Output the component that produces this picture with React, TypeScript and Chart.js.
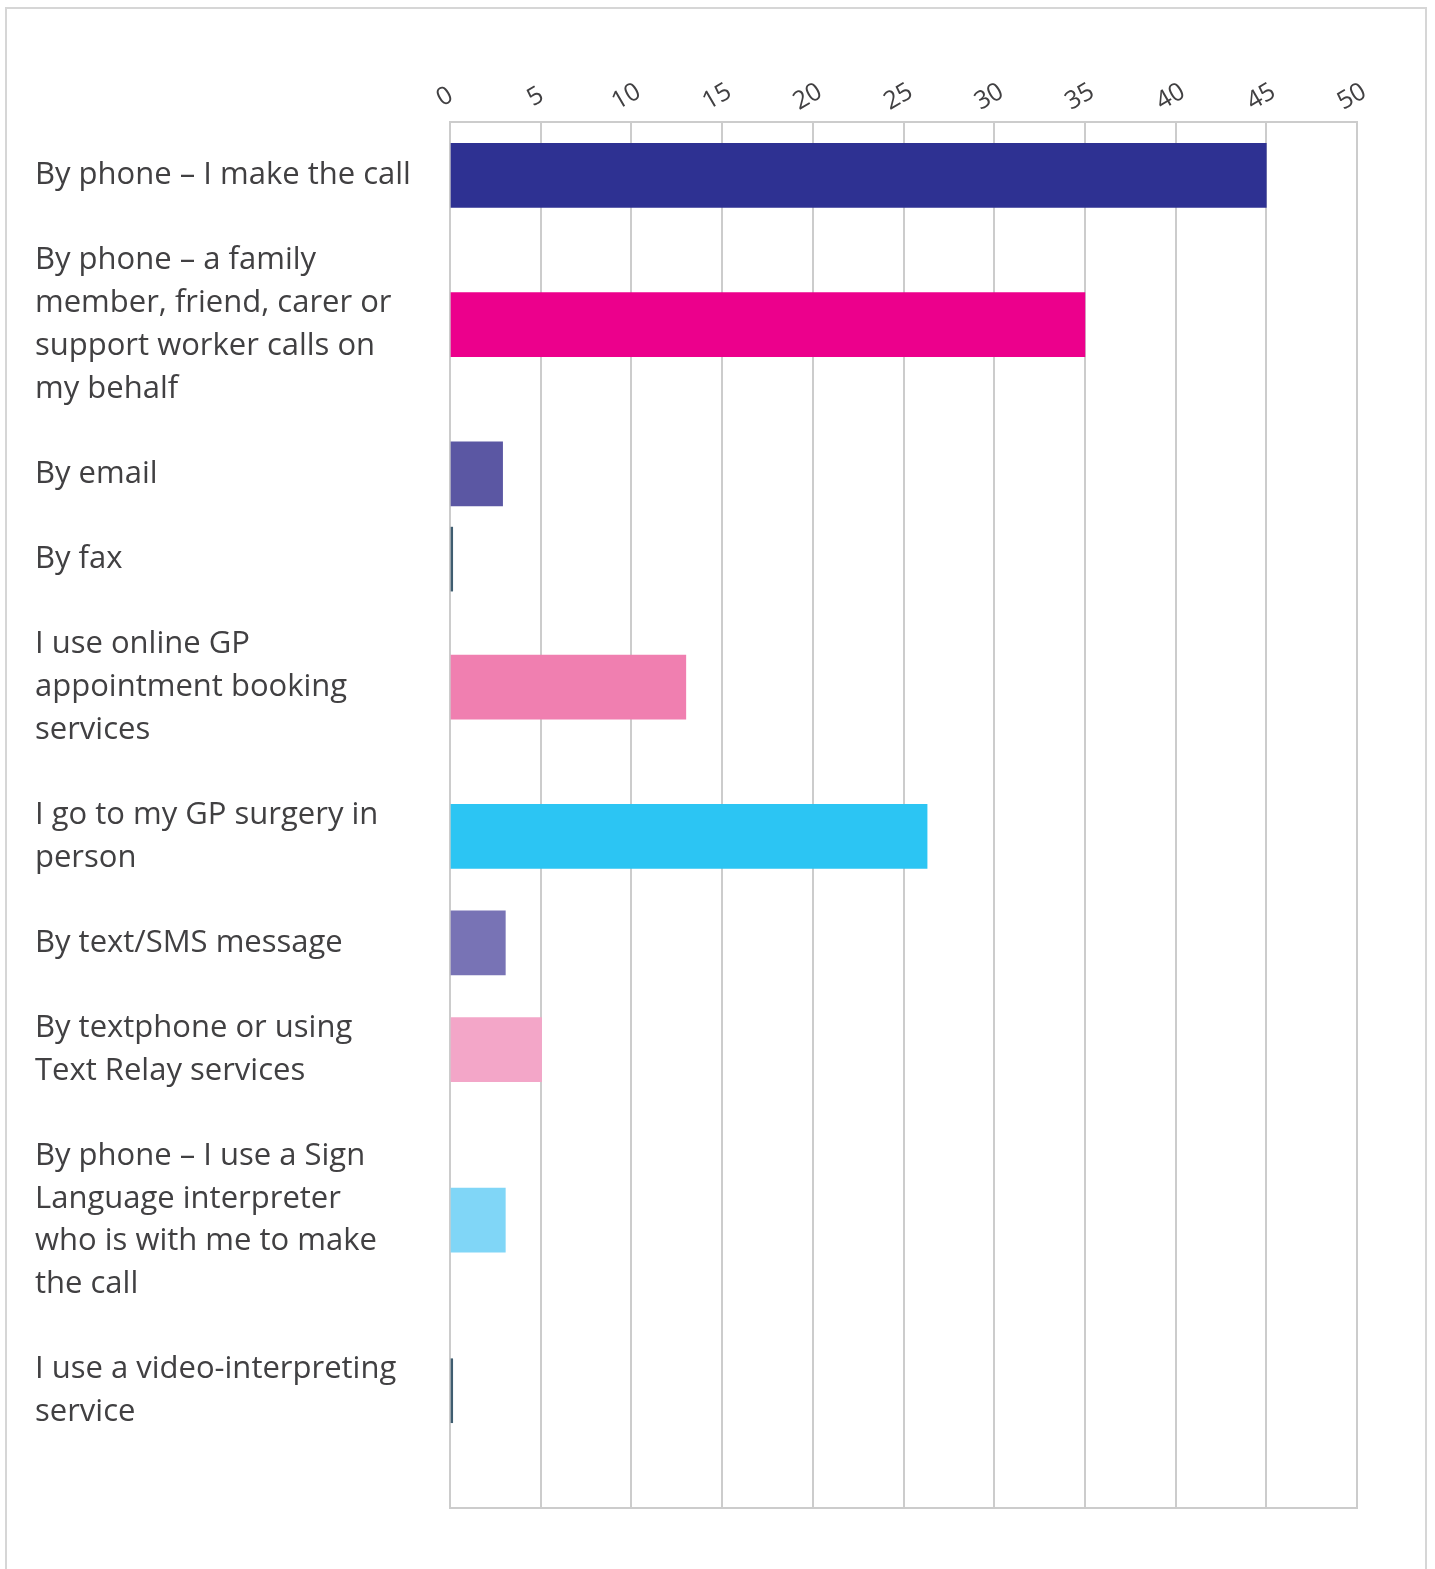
import React, { useEffect, useRef } from "react";
import { Chart, registerables } from "chart.js";

Chart.register(...registerables);

const categoryLabels: string[][] = [
  ["By phone – I make the call"],
  ["By phone – a family", "member, friend, carer or", "support worker calls on", "my behalf"],
  ["By email"],
  ["By fax"],
  ["I use online GP", "appointment booking", "services"],
  ["I go to my GP surgery in", "person"],
  ["By text/SMS message"],
  ["By textphone or using", "Text Relay services"],
  ["By phone – I use a Sign", "Language interpreter", "who is with me to make", "the call"],
  ["I use a video-interpreting", "service"],
];

const values: number[] = [45, 35, 2.9, 0.15, 13, 26.3, 3.05, 5.05, 3.05, 0.15];

const barColors: string[] = [
  "#2e3192",
  "#ec008c",
  "#5b57a3",
  "#3f5d70",
  "#f07fb0",
  "#2cc5f3",
  "#7873b5",
  "#f3a6c8",
  "#80d6f7",
  "#3f5d70",
];

const xMin = 0;
const xMax = 50;
const xStep = 5;

const TEXT = "#414042";
const GRID = "#cccccc";
const FONT = "'Open Sans', Lato, sans-serif";

// Each row takes its label's line count plus one line of spacing.
function rowCenters(labels: string[][]): number[] {
  let acc = 0;
  return labels.map((l) => {
    const h = l.length + 1;
    const c = acc + h / 2;
    acc += h;
    return c;
  });
}

const framePlugin = {
  id: "frame",
  beforeDatasetsDraw(chart: any) {
    const { ctx, chartArea: a } = chart;
    ctx.save();
    ctx.strokeStyle = GRID;
    ctx.lineWidth = 2;
    ctx.strokeRect(a.left, a.top, a.right - a.left, a.bottom - a.top);
    ctx.restore();
  },
  afterDraw(chart: any) {
    const { ctx, chartArea: a, scales } = chart;
    const xs = scales.x;
    ctx.save();
    ctx.fillStyle = TEXT;
    ctx.font = `25px ${FONT}`;
    ctx.textAlign = "center";
    ctx.textBaseline = "middle";
    xs.ticks.forEach((t: any) => {
      const px = xs.getPixelForValue(t.value);
      ctx.save();
      ctx.translate(px - 5, a.top - 25);
      ctx.rotate(-Math.PI / 6);
      ctx.fillText(String(t.value), 0, 0);
      ctx.restore();
    });
    ctx.restore();
  },
};

export default function App() {
  const ref = useRef<HTMLCanvasElement | null>(null);

  useEffect(() => {
    if (!ref.current) return;
    const centers = rowCenters(categoryLabels);
    const total = categoryLabels.reduce((s, l) => s + l.length + 1, 0);
    const chart = new Chart(ref.current, {
      type: "bar",
      data: {
        datasets: [
          {
            data: values.map((v, i) => ({ x: v, y: centers[i] })) as any,
            backgroundColor: barColors,
            borderWidth: 0,
            barThickness: 64,
          },
        ],
      },
      options: {
        indexAxis: "y",
        animation: false,
        responsive: false,
        layout: { padding: { top: 113, left: 28, right: 68, bottom: 61 } },
        plugins: { legend: { display: false }, tooltip: { enabled: false } },
        scales: {
          x: {
            type: "linear",
            position: "top",
            min: xMin,
            max: xMax,
            ticks: { stepSize: xStep, display: false },
            grid: { color: GRID, lineWidth: 2, drawTicks: false },
            border: { display: true, color: GRID, width: 2 },
            afterFit: (s: any) => {
              s.height = 0;
            },
          },
          y: {
            type: "linear",
            reverse: true,
            offset: false,
            min: -0.25,
            max: total + 1.25,
            afterBuildTicks: (s: any) => {
              s.ticks = centers.map((v) => ({ value: v }));
            },
            afterFit: (s: any) => {
              s.width = 415;
            },
            ticks: {
              autoSkip: false,
              crossAlign: "far",
              color: TEXT,
              font: { family: FONT, size: 31, lineHeight: 1.38 },
              callback: (_v: any, i: number) => categoryLabels[i],
            },
            grid: { display: false, offset: false },
            border: { display: false },
          },
        },
      } as any,
      plugins: [framePlugin],
    });
    return () => chart.destroy();
  }, []);

  return (
    <div
      style={{
        position: "absolute",
        left: 5,
        top: 7,
        width: 1418,
        height: 1560,
        border: "2px solid #d6d6d6",
        background: "#ffffff",
      }}
    >
      <canvas ref={ref} width={1418} height={1560} style={{ display: "block" }} />
    </div>
  );
}
